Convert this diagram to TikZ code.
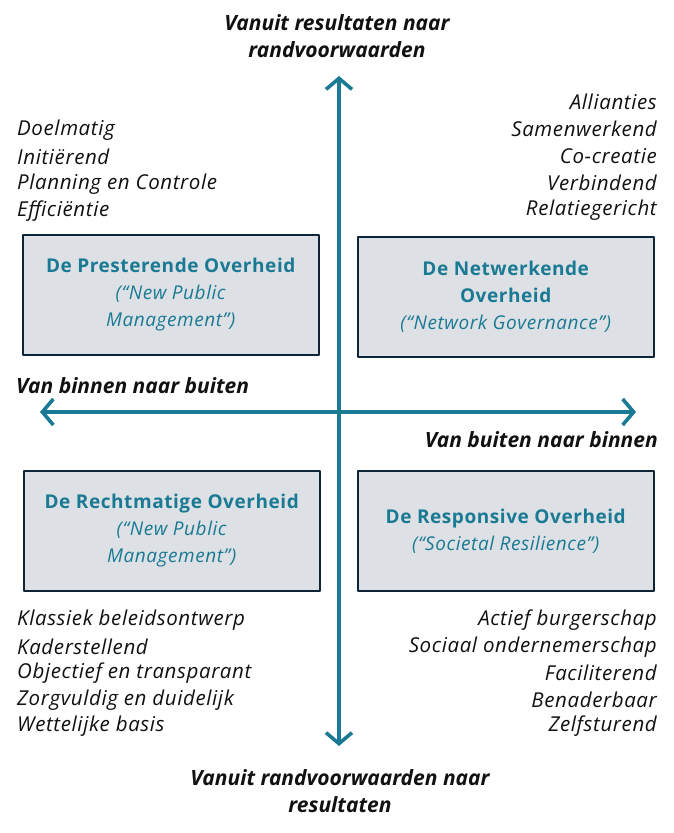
\documentclass[tikz,border=0pt]{standalone}
\usepackage{fontspec}
\setmainfont{Open Sans}
\newfontfamily\wijdfont[LetterSpace=3]{Open Sans}
\usetikzlibrary{arrows.meta}
\definecolor{pagebg}{HTML}{FFFFFF}
\definecolor{textfg}{HTML}{111111}
\definecolor{axis}{HTML}{1A7A94}
\definecolor{panel}{HTML}{DDE0E4}
\definecolor{panelborder}{HTML}{0E2538}
\definecolor{accent}{HTML}{1A7A94}

\begin{document}
\begin{tikzpicture}[
  x=1pt,
  y=-1pt,
  line cap=round,
  line join=round,
  kwadrant/.style={draw=panelborder, fill=panel, line width=2pt,
    minimum width=296pt, minimum height=120pt, inner sep=0pt,
    align=center, text=accent, font=\wijdfont\fontsize{19}{27}\selectfont},
  kenmerk/.style={text=textfg, inner sep=0pt,
    font=\wijdfont\itshape\fontsize{20.5}{27}\selectfont},
  aslabel/.style={text=textfg, inner sep=0pt, align=center,
    font=\bfseries\itshape\fontsize{21}{27}\selectfont},
  as/.style={draw=axis, line width=3.6pt,
    {Straight Barb[length=11pt, width=26pt, line width=3.6pt]}-{Straight Barb[length=11pt, width=26pt, line width=3.6pt]}}
]
  \useasboundingbox[fill=pagebg] (0,0) rectangle (673,833);

  % assen
  \coordinate (boven) at (339,76);
  \coordinate (onder) at (339,746);
  \coordinate (links) at (40,412);
  \coordinate (rechts) at (636,412);
  \draw[as] (onder) -- (boven);
  \draw[as] (links) -- (rechts);

  \node[aslabel] (lbboven) at (337,36) {Vanuit resultaten naar\\randvoorwaarden};
  \node[aslabel] (lbonder) at (340,791) {Vanuit randvoorwaarden naar\\resultaten};
  \node[aslabel, anchor=west] (lblinks) at (16,386) {Van binnen naar buiten};
  \node[aslabel, anchor=east] (lbrechts) at (658,440) {Van buiten naar binnen};

  % kwadranten
  \node[kwadrant] (presterend) at (171,295) {\textbf{De Presterende Overheid}\\\textit{(“New Public}\\\textit{Management”)}};
  \node[kwadrant] (netwerkend) at (506,297) {\textbf{De Netwerkende}\\\textbf{Overheid}\\\textit{(“Network Governance”)}};
  \node[kwadrant] (rechtmatig) at (172,531) {\textbf{De Rechtmatige Overheid}\\\textit{(“New Public}\\\textit{Management”)}};
  \node[kwadrant] (responsief) at (506,531) {\textbf{De Responsive Overheid}\\\textit{(“Societal Resilience”)}};

  % kenmerken
  \node[kenmerk, anchor=west] (pr1) at (17,130) {Doelmatig};
  \node[kenmerk, anchor=west] (pr2) at (17,157) {Initiërend};
  \node[kenmerk, anchor=west] (pr3) at (17,184) {Planning en Controle};
  \node[kenmerk, anchor=west] (pr4) at (17,211) {Efficiëntie};

  \node[kenmerk, anchor=east] (nw1) at (657,102) {Allianties};
  \node[kenmerk, anchor=east] (nw2) at (657,129) {Samenwerkend};
  \node[kenmerk, anchor=east] (nw3) at (657,156) {Co-creatie};
  \node[kenmerk, anchor=east] (nw4) at (657,183) {Verbindend};
  \node[kenmerk, anchor=east] (nw5) at (657,210) {Relatiegericht};

  \node[kenmerk, anchor=west] (rm1) at (17,620) {Klassiek beleidsontwerp};
  \node[kenmerk, anchor=west] (rm2) at (17,647) {Kaderstellend};
  \node[kenmerk, anchor=west] (rm3) at (17,673) {Objectief en transparant};
  \node[kenmerk, anchor=west] (rm4) at (17,700) {Zorgvuldig en duidelijk};
  \node[kenmerk, anchor=west] (rm5) at (17,726) {Wettelijke basis};

  \node[kenmerk, anchor=east] (rs1) at (657,620) {Actief burgerschap};
  \node[kenmerk, anchor=east] (rs2) at (657,647) {Sociaal ondernemerschap};
  \node[kenmerk, anchor=east] (rs3) at (657,673) {Faciliterend};
  \node[kenmerk, anchor=east] (rs4) at (657,700) {Benaderbaar};
  \node[kenmerk, anchor=east] (rs5) at (657,726) {Zelfsturend};
\end{tikzpicture}
\end{document}
